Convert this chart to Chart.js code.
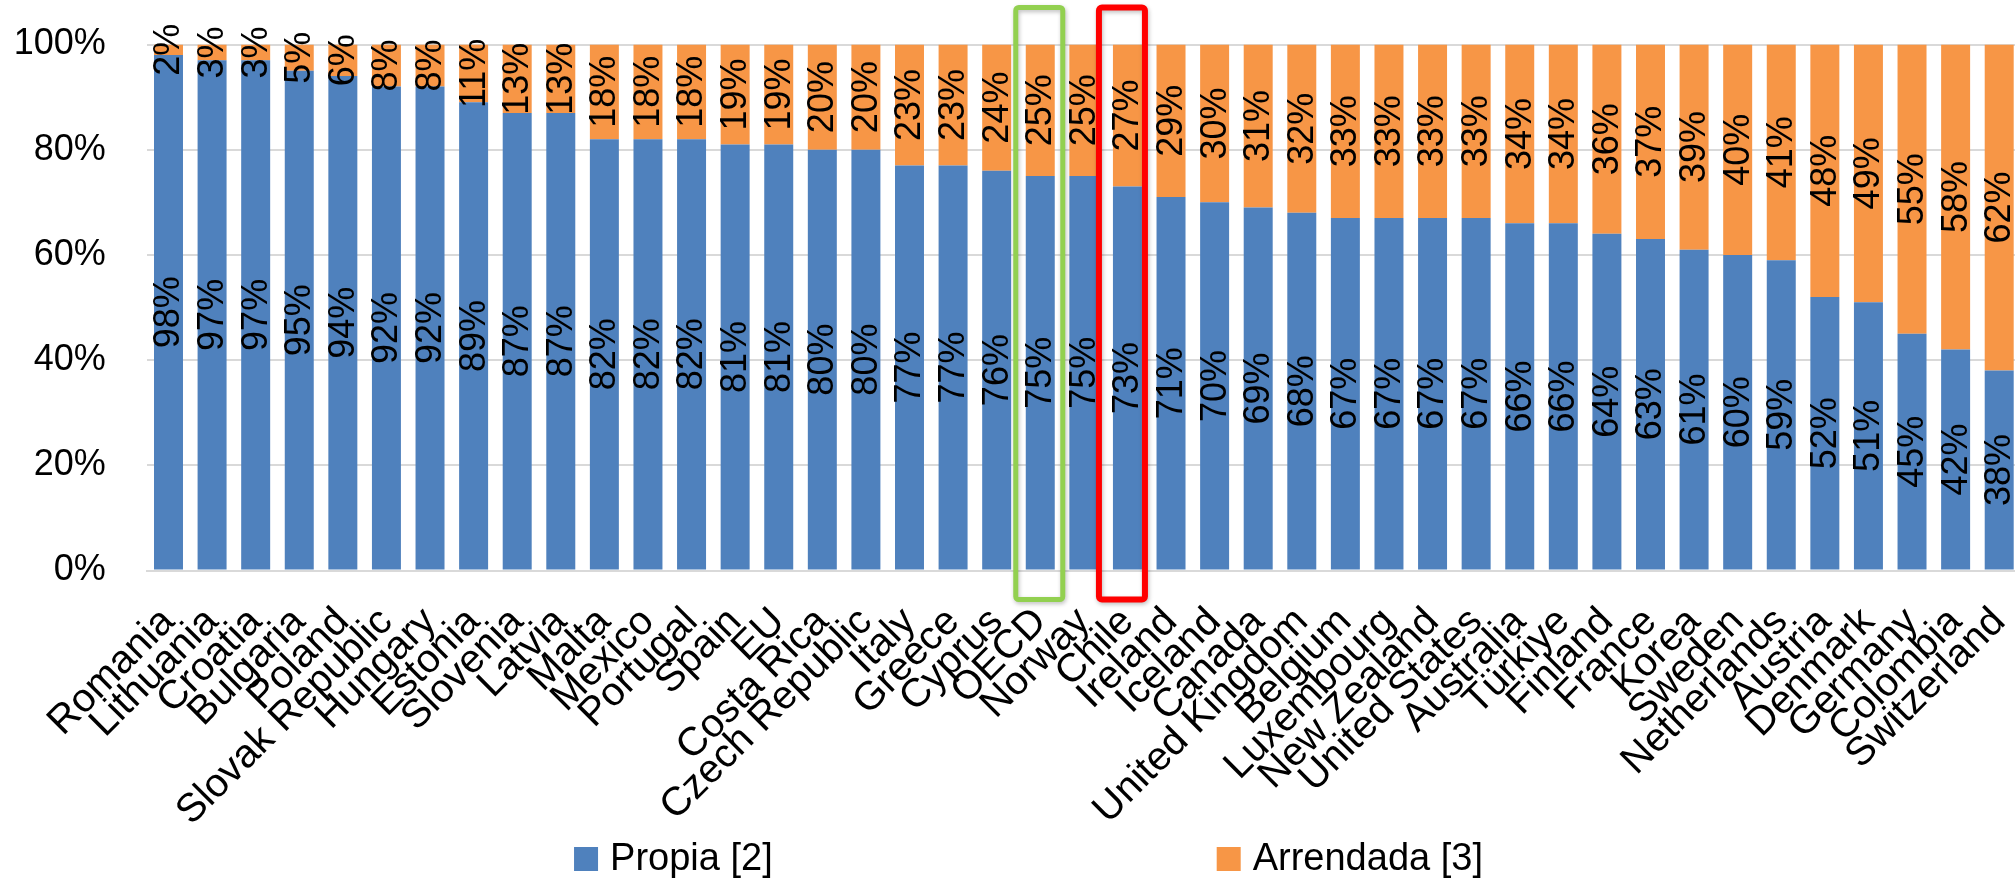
<!DOCTYPE html>
<html>
<head>
<meta charset="utf-8">
<title>Vivienda propia y arrendada</title>
<script src="https://cdn.jsdelivr.net/npm/chart.js@4.4.1/dist/chart.umd.min.js"></script>
<style>
  html, body { margin: 0; padding: 0; background: #ffffff; overflow: hidden; }
  #wrap { position: relative; width: 2021px; height: 879px; }
</style>
</head>
<body>
<div id="wrap"><canvas id="chart"></canvas></div>
<script>
// Share of households by tenure, per country (percent)
const countries = [
  'Romania', 'Lithuania', 'Croatia', 'Bulgaria', 'Poland', 'Slovak Republic', 'Hungary',
  'Estonia', 'Slovenia', 'Latvia', 'Malta', 'Mexico', 'Portugal', 'Spain', 'EU',
  'Costa Rica', 'Czech Republic', 'Italy', 'Greece', 'Cyprus', 'OECD', 'Norway', 'Chile',
  'Ireland', 'Iceland', 'Canada', 'United Kingdom', 'Belgium', 'Luxembourg', 'New Zealand',
  'United States', 'Australia', 'Türkiye', 'Finland', 'France', 'Korea', 'Sweden',
  'Netherlands', 'Austria', 'Denmark', 'Germany', 'Colombia', 'Switzerland'
];
const owned = [
  98, 97, 97, 95, 94, 92, 92, 89, 87, 87, 82, 82, 82, 81, 81, 80, 80, 77, 77, 76, 75, 75,
  73, 71, 70, 69, 68, 67, 67, 67, 67, 66, 66, 64, 63, 61, 60, 59, 52, 51, 45, 42, 38
];
const rented = [
  2, 3, 3, 5, 6, 8, 8, 11, 13, 13, 18, 18, 18, 19, 19, 20, 20, 23, 23, 24, 25, 25,
  27, 29, 30, 31, 32, 33, 33, 33, 33, 34, 34, 36, 37, 39, 40, 41, 48, 49, 55, 58, 62
];
const seriesNames = ['Propia [2]', 'Arrendada [3]'];
const yTicks = [0, 20, 40, 60, 80, 100];
const highlighted = ['OECD', 'Chile'];

const FONT = '"Liberation Sans", Arial, sans-serif';
const BLUE = '#4F81BD';
const ORANGE = '#F79646';

// Rotated percentage labels centred in each bar segment
const valueLabels = {
  id: 'valueLabels',
  afterDatasetsDraw(chart) {
    const ctx = chart.ctx;
    ctx.save();
    ctx.font = '36px ' + FONT;
    ctx.fillStyle = '#000000';
    ctx.textAlign = 'center';
    ctx.textBaseline = 'middle';
    chart.data.datasets.forEach((ds, di) => {
      chart.getDatasetMeta(di).data.forEach((bar, i) => {
        const cy = (bar.y + bar.base) / 2;
        ctx.save();
        ctx.translate(bar.x, cy);
        ctx.rotate(-Math.PI / 2);
        ctx.fillText(ds.data[i] + '%', 0, 1);
        ctx.restore();
      });
    });
    ctx.restore();
  }
};

// Outline boxes around the reference categories
const highlightBoxes = {
  id: 'highlightBoxes',
  afterDraw(chart) {
    const { ctx, chartArea, scales } = chart;
    const styles = {
      OECD:  { color: '#92D050', width: 5, left: -24.5, right: 22.5 },
      Chile: { color: '#FF0000', width: 6, left: -28.5, right: 17.5 }
    };
    highlighted.forEach(name => {
      const idx = countries.indexOf(name);
      const st = styles[name];
      const cx = scales.x.getPixelForValue(idx);
      const x0 = cx + st.left, x1 = cx + st.right;
      const y0 = chartArea.top - 37, y1 = chartArea.bottom + 29;
      ctx.save();
      ctx.strokeStyle = st.color;
      ctx.lineWidth = st.width;
      ctx.lineJoin = 'round';
      ctx.shadowColor = 'rgba(0,0,0,0.25)';
      ctx.shadowBlur = 4;
      ctx.shadowOffsetX = 1;
      ctx.shadowOffsetY = 2;
      ctx.beginPath();
      ctx.roundRect(x0, y0, x1 - x0, y1 - y0, 3);
      ctx.stroke();
      ctx.restore();
    });
  }
};

// Legend row under the category labels
const bottomLegend = {
  id: 'bottomLegend',
  afterDraw(chart) {
    const ctx = chart.ctx;
    const colors = chart.data.datasets.map(d => d.backgroundColor);
    const box = 24, gapText = 12, gapItem = 444;
    ctx.save();
    ctx.font = '38px ' + FONT;
    ctx.textBaseline = 'middle';
    ctx.textAlign = 'left';
    const widths = seriesNames.map(t => box + gapText + ctx.measureText(t).width);
    const total = widths.reduce((a, b) => a + b, 0) + gapItem * (widths.length - 1);
    let x = chart.width / 2 + 18 - total / 2;
    const cy = 859;
    seriesNames.forEach((t, i) => {
      ctx.fillStyle = colors[i];
      ctx.fillRect(x, cy - box / 2, box, box);
      ctx.fillStyle = '#000000';
      ctx.fillText(t, x + box + gapText, cy + 1);
      x += widths[i] + gapItem;
    });
    ctx.restore();
  }
};

new Chart(document.getElementById('chart'), {
  type: 'bar',
  data: {
    labels: countries,
    datasets: [
      { label: seriesNames[0], data: owned, backgroundColor: BLUE, barPercentage: 0.665, categoryPercentage: 1 },
      { label: seriesNames[1], data: rented, backgroundColor: ORANGE, barPercentage: 0.665, categoryPercentage: 1 }
    ]
  },
  options: {
    responsive: true,
    maintainAspectRatio: false,
    animation: false,
    layout: { padding: { top: 44.5, left: 0, right: 0, bottom: 0 } },
    plugins: {
      legend: { display: false },
      tooltip: { enabled: false }
    },
    scales: {
      x: {
        stacked: true,
        grid: { display: false, drawTicks: false },
        border: { display: true, color: '#D9D9D9', width: 2 },
        ticks: {
          autoSkip: false,
          minRotation: 45,
          maxRotation: 45,
          padding: 28,
          color: '#000000',
          font: { family: FONT, size: 40 }
        },
        afterFit(scale) {
          scale.height = 308.5;
          scale.paddingLeft = 0;
          scale.paddingRight = 0;
        }
      },
      y: {
        stacked: true,
        min: 0,
        max: 100,
        afterBuildTicks(scale) {
          scale.ticks = yTicks.map(v => ({ value: v }));
        },
        grid: { color: '#D9D9D9', lineWidth: 2, drawTicks: false },
        border: { display: false },
        ticks: {
          padding: 41,
          color: '#000000',
          font: { family: FONT, size: 36 },
          callback: v => v + '%'
        },
        afterFit(scale) {
          scale.width = 146.7;
          scale.paddingTop = 0;
          scale.paddingBottom = 0;
        }
      }
    }
  },
  plugins: [valueLabels, highlightBoxes, bottomLegend]
});
</script>
</body>
</html>
